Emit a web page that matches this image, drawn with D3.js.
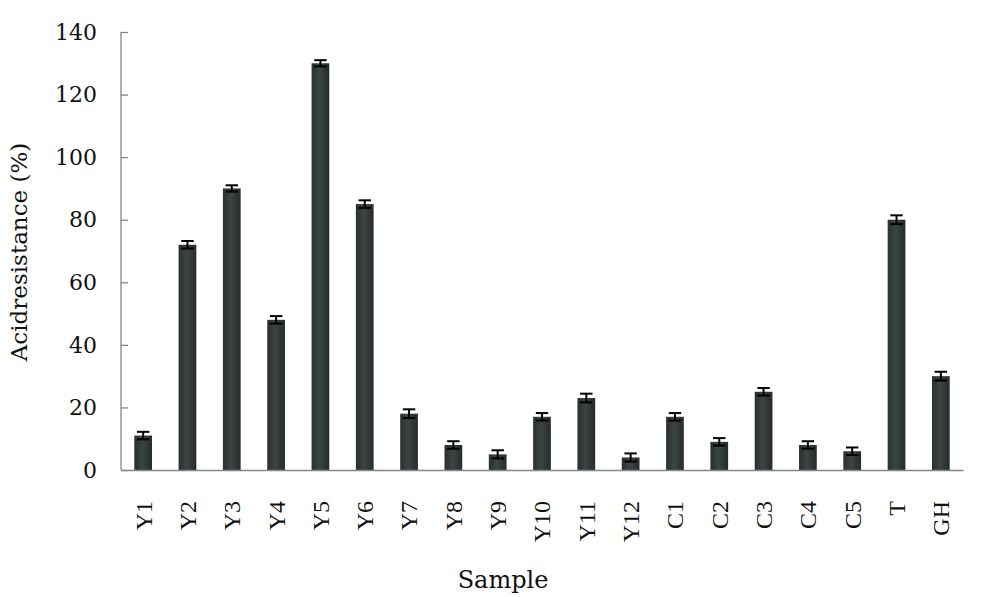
<!DOCTYPE html>
<html><head><meta charset="utf-8">
<script src="https://cdn.jsdelivr.net/npm/d3@7"></script>
<style>body{margin:0;background:#fff;} svg{display:block;}</style>
</head><body>
<svg id="c" width="1000" height="597"></svg>
<script>
const categories = ["Y1","Y2","Y3","Y4","Y5","Y6","Y7","Y8","Y9","Y10","Y11","Y12","C1","C2","C3","C4","C5","T","GH"];
const values = [11,72,90,48,130,85,18,8,5,17,23,4,17,9,25,8,6,80,30];
const errors = [1.2,1.2,1,1.2,1,1.2,1.4,1.2,1.3,1.2,1.4,1.3,1.2,1.2,1.2,1.2,1.2,1.4,1.4];
const yTicks = [0,20,40,60,80,100,120,140];

const svg = d3.select("#c");
const L=121, R=963, T=32, B=470;
const x = d3.scaleBand().domain(categories).range([L,R]).paddingInner(0.6).paddingOuter(0.3);
const y = d3.scaleLinear().domain([0,140]).range([B,T]);
const font = "'DejaVu Serif', serif";
const font2 = "'Liberation Serif', serif";

const defs = svg.append("defs");
const g = defs.append("linearGradient").attr("id","bg").attr("x1","0").attr("x2","1").attr("y1","0").attr("y2","0");
g.append("stop").attr("offset","0").attr("stop-color","#2a2f2f");
g.append("stop").attr("offset","0.45").attr("stop-color","#3d4444");
g.append("stop").attr("offset","1").attr("stop-color","#262b2b");

// bars
svg.append("g").selectAll("rect").data(categories).join("rect")
  .attr("x", d=>x(d)).attr("width", x.bandwidth())
  .attr("y", (d,i)=>y(values[i])).attr("height",(d,i)=>y(0)-y(values[i]))
  .attr("fill","url(#bg)");

// error bars
const eg = svg.append("g").attr("stroke","#000").attr("stroke-width",2);
categories.forEach((c,i)=>{
  const cx = x(c)+x.bandwidth()/2, w = x.bandwidth()*0.35;
  const top = y(values[i]+errors[i]), bot = y(values[i]-errors[i]);
  eg.append("line").attr("x1",cx).attr("x2",cx).attr("y1",top).attr("y2",bot);
  eg.append("line").attr("x1",cx-w).attr("x2",cx+w).attr("y1",top).attr("y2",top);
  eg.append("line").attr("x1",cx-w).attr("x2",cx+w).attr("y1",bot).attr("y2",bot);
});

// y axis
const ya = svg.append("g").attr("transform",`translate(${L},0)`)
  .call(d3.axisRight(y).tickValues(yTicks).tickSize(7).tickFormat(""));
ya.select(".domain").attr("stroke","#7d8a8a").attr("stroke-width",1.3).attr("d",`M0,${B}V${T}`);
ya.selectAll(".tick line").attr("stroke","#7d8a8a").attr("stroke-width",1.3);
svg.append("g").selectAll("text").data(yTicks).join("text")
  .attr("x",97).attr("y",d=>y(d)).attr("dy","0.35em").attr("text-anchor","end")
  .attr("font-family",font).attr("font-size",22).attr("fill","#111").text(d=>d);

// x axis
const xa = svg.append("g").attr("transform",`translate(0,${B})`)
  .call(d3.axisBottom(x).tickSize(0).tickFormat(""));
xa.select(".domain").attr("stroke","#7d8a8a").attr("stroke-width",1.3);
svg.append("g").selectAll("text").data(categories).join("text")
  .attr("transform",d=>`translate(${x(d)+x.bandwidth()/2},501) rotate(-90)`)
  .attr("dy","0.35em").attr("text-anchor","end")
  .attr("font-family",font2).attr("font-size",24).attr("fill","#111").text(d=>d);

// titles
svg.append("text").attr("transform","translate(19,252) rotate(-90)")
  .attr("text-anchor","middle").attr("dy","0.35em")
  .attr("font-family",font).attr("font-size",23).attr("fill","#111").text("Acidresistance (%)");
svg.append("text").attr("x",503).attr("y",588).attr("text-anchor","middle")
  .attr("font-family",font).attr("font-size",24).attr("fill","#111").text("Sample");
</script>
</body></html>
